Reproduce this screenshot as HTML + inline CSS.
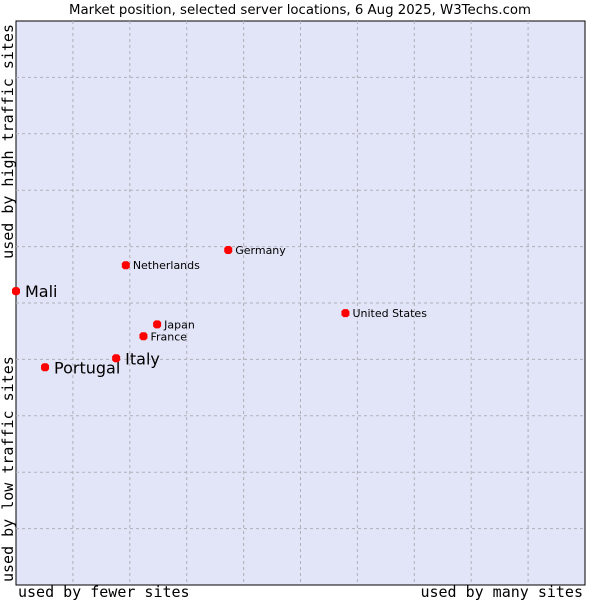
<!DOCTYPE html>
<html><head><meta charset="utf-8"><style>
body{margin:0;background:#fff;width:600px;height:600px;overflow:hidden}
svg{font-family:"DejaVu Sans","Liberation Sans",sans-serif}
</style></head><body>
<svg width="600" height="600">
<text x="300" y="14" text-anchor="middle" font-size="13.3">Market position, selected server locations, 6 Aug 2025, W3Techs.com</text>
<rect x="16" y="21" width="569" height="564" fill="#e2e4f7" stroke="#000"/>
<g id="grid"></g>
<g id="pts"></g>
<text x="18" y="597" font-family="DejaVu Sans Mono,Liberation Mono,monospace" font-size="15">used by fewer sites</text>
<text x="583" y="597" text-anchor="end" font-family="DejaVu Sans Mono,Liberation Mono,monospace" font-size="15">used by many sites</text>
<text transform="translate(13,582) rotate(-90)" font-family="DejaVu Sans Mono,Liberation Mono,monospace" font-size="15">used by low traffic sites</text>
<text transform="translate(13,24) rotate(-90)" text-anchor="end" font-family="DejaVu Sans Mono,Liberation Mono,monospace" font-size="15">used by high traffic sites</text>
</svg>
<script>
const names=["Mali","Portugal","Italy","France","Japan","Netherlands","Germany","United States"];
const xVals=[0,0.51,1.76,2.24,2.48,1.93,3.73,5.79];
const yVals=[5.21,3.86,4.02,4.41,4.62,5.67,5.94,4.82];
const big=[true,true,true,false,false,false,false,false];
const x0=16,x1=585,y0=585,y1=21;
const sx=v=>x0+v*(x1-x0)/10, sy=v=>y0-v*(y0-y1)/10;
const NS="http://www.w3.org/2000/svg";
const g=document.getElementById('grid');
for(let i=1;i<10;i++){
 let l=document.createElementNS(NS,'line');
 
 
 l.setAttribute('x1',sx(i));l.setAttribute('x2',sx(i));l.setAttribute('y1',y1);l.setAttribute('y2',y0);
 l.setAttribute('stroke','#b0b0b8');l.setAttribute('stroke-dasharray','3,3');g.appendChild(l);
 let h=document.createElementNS(NS,'line');
 
 
 h.setAttribute('y1',sy(i));h.setAttribute('y2',sy(i));h.setAttribute('x1',x0);h.setAttribute('x2',x1);
 h.setAttribute('stroke','#b0b0b8');h.setAttribute('stroke-dasharray','3,3');g.appendChild(h);
}
const p=document.getElementById('pts');
names.forEach((n,i)=>{
 const cx=sx(xVals[i]),cy=sy(yVals[i]);
 let d=document.createElementNS(NS,'polygon');
 
 
 d.setAttribute('points',`${cx-4},${cy-2} ${cx-2},${cy-4} ${cx+2},${cy-4} ${cx+4},${cy-2} ${cx+4},${cy+2} ${cx+2},${cy+4} ${cx-2},${cy+4} ${cx-4},${cy+2}`);
 d.setAttribute('fill','#f00');p.appendChild(d);
 let t=document.createElementNS(NS,'text');
 
 
 t.setAttribute('x',cx+(big[i]?9:7));t.setAttribute('y',cy+(big[i]?6:4));
 t.setAttribute('font-size',big[i]?16:11);t.textContent=n;p.appendChild(t);
});
</script>
</body></html>
